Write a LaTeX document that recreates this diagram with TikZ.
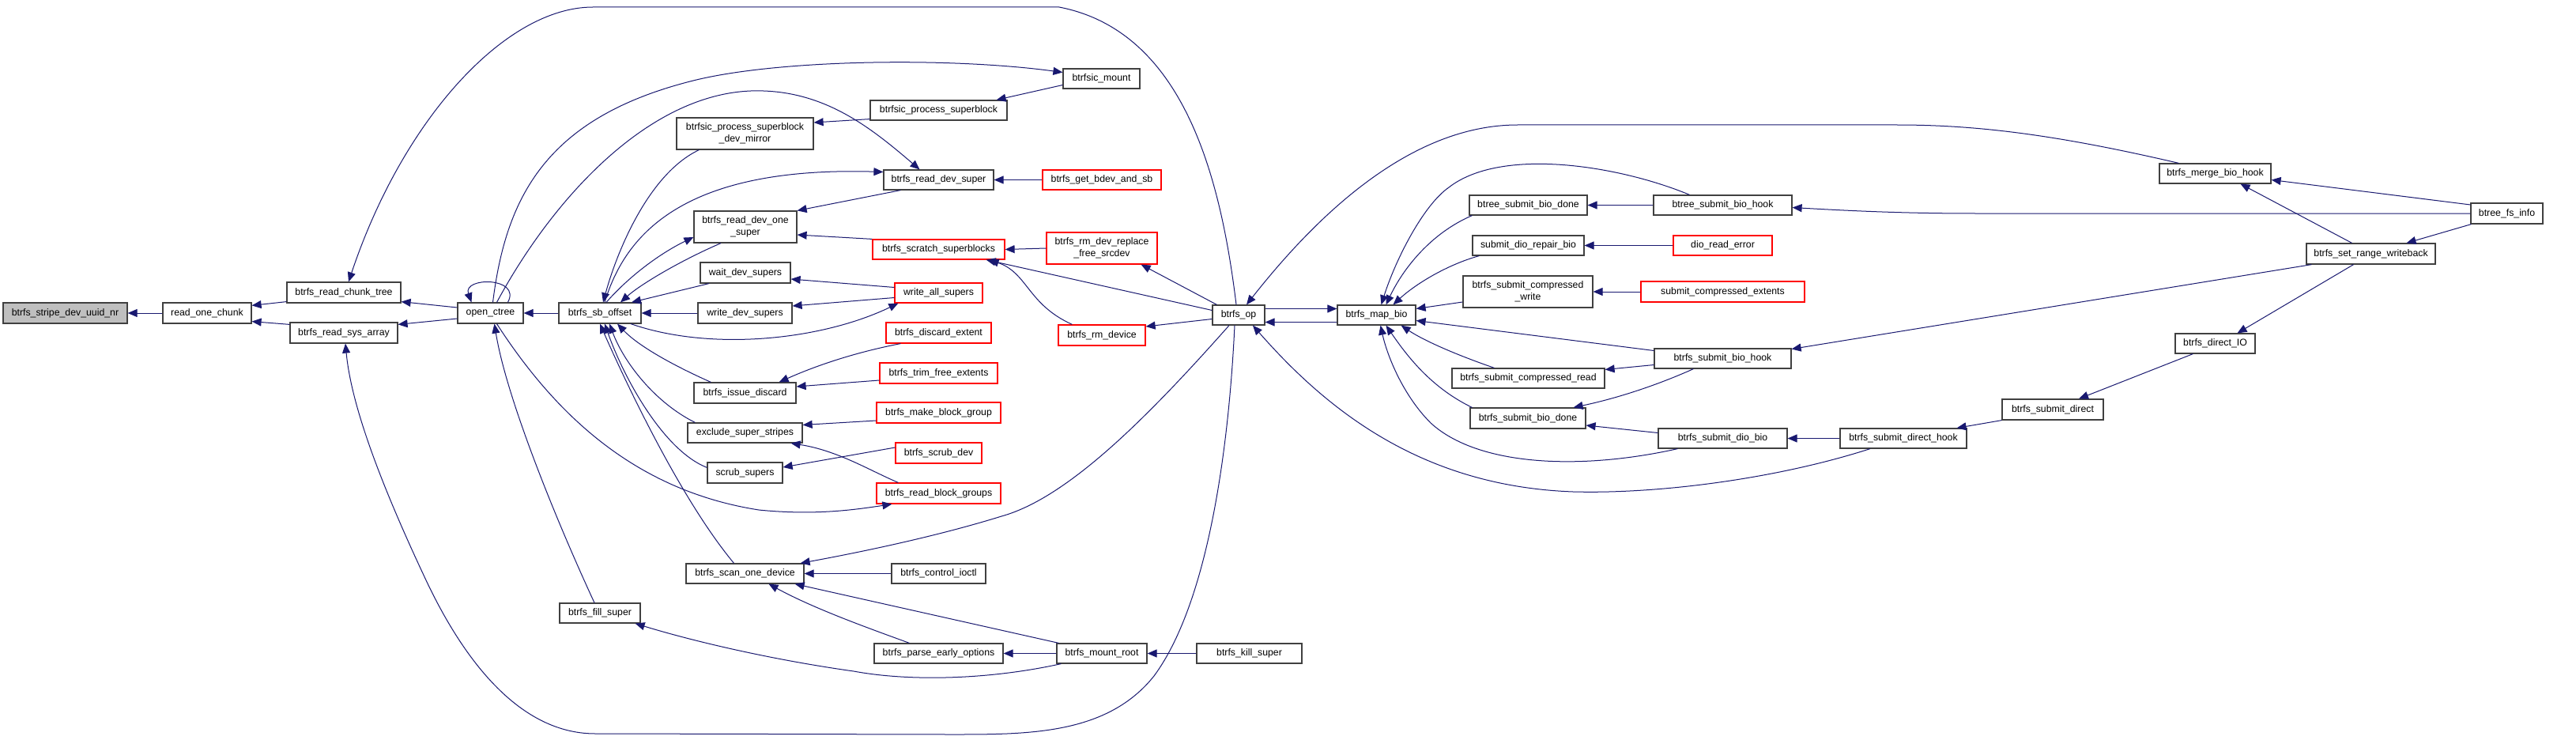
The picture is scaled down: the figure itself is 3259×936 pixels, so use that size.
\documentclass[tikz,border=0pt]{standalone}
\usepackage{fontspec}
\setmainfont{Liberation Sans}
\usetikzlibrary{arrows.meta}
\definecolor{edgecol}{HTML}{191970}
\definecolor{boxcol}{HTML}{404040}
\definecolor{focusfill}{HTML}{BFBFBF}
\tikzset{
  box/.style={draw=boxcol, line width=1.2pt, rectangle, inner sep=0pt, align=center,
    font=\fontsize{12.3}{15}\selectfont, fill=white},
  redbox/.style={draw=red},
  focus/.style={fill=focusfill},
  plain/.style={},
  edge/.style={draw=edgecol, line width=1pt, -{Triangle[length=12pt,width=10pt]}}
}
\newcommand{\mynode}[7]{\node[box,#2,minimum width=#5pt,minimum height=#6pt] (#1) at (#3,#4) {#7};}
\begin{document}
\begin{tikzpicture}[x=1pt,y=-1pt]
\useasboundingbox[fill=white] (0,0) rectangle (3259,936);
% nodes: name, style, cx, cy, w, h, text
\mynode{stripe}{focus}{82.5}{396}{157}{26}{btrfs\_stripe\_dev\_uuid\_nr}
\mynode{roc}{plain}{262}{396}{112}{26}{read\_one\_chunk}
\mynode{rct}{plain}{435}{370}{144}{26}{btrfs\_read\_chunk\_tree}
\mynode{rsa}{plain}{435}{421}{136}{26}{btrfs\_read\_sys\_array}
\mynode{oc}{plain}{620.5}{396}{83}{26}{open\_ctree}
\mynode{sbo}{plain}{759}{396}{104}{26}{btrfs\_sb\_offset}
\mynode{dm}{plain}{942.5}{169}{173}{40}{btrfsic\_process\_superblock\\\_dev\_mirror}
\mynode{rdos}{plain}{943}{287}{130}{40}{btrfs\_read\_dev\_one\\\_super}
\mynode{wds}{plain}{943}{345}{114}{26}{wait\_dev\_supers}
\mynode{wrds}{plain}{942.5}{396}{119}{26}{write\_dev\_supers}
\mynode{isd}{plain}{942.5}{497}{129}{26}{btrfs\_issue\_discard}
\mynode{ess}{plain}{942.5}{547.5}{145}{25}{exclude\_super\_stripes}
\mynode{ssu}{plain}{942.5}{598}{95}{26}{scrub\_supers}
\mynode{sod}{plain}{942.5}{725.5}{149}{25}{btrfs\_scan\_one\_device}
\mynode{fs}{plain}{759}{775.5}{102}{25}{btrfs\_fill\_super}
\mynode{mnt}{plain}{1393.5}{99.5}{97}{25}{btrfsic\_mount}
\mynode{psb}{plain}{1187.5}{139.5}{173}{25}{btrfsic\_process\_superblock}
\mynode{rds}{plain}{1187.5}{227.5}{139}{25}{btrfs\_read\_dev\_super}
\mynode{gbs}{redbox}{1394}{227.5}{150}{25}{btrfs\_get\_bdev\_and\_sb}
\mynode{scr}{redbox}{1187.5}{315.5}{167}{25}{btrfs\_scratch\_superblocks}
\mynode{rdr}{redbox}{1394}{314}{140}{40}{btrfs\_rm\_dev\_replace\\\_free\_srcdev}
\mynode{was}{redbox}{1187.5}{370.5}{111}{25}{write\_all\_supers}
\mynode{dex}{redbox}{1187.5}{421}{133}{26}{btrfs\_discard\_extent}
\mynode{rmd}{redbox}{1394}{424}{110}{26}{btrfs\_rm\_device}
\mynode{op}{plain}{1567}{398.5}{66}{25}{btrfs\_op}
\mynode{tfe}{redbox}{1187.5}{472}{149}{26}{btrfs\_trim\_free\_extents}
\mynode{mbg}{redbox}{1187.5}{522}{157}{26}{btrfs\_make\_block\_group}
\mynode{sdev}{redbox}{1187.5}{573}{109}{26}{btrfs\_scrub\_dev}
\mynode{rbg}{redbox}{1187.5}{624}{157}{26}{btrfs\_read\_block\_groups}
\mynode{cio}{plain}{1187.5}{725.5}{119}{25}{btrfs\_control\_ioctl}
\mynode{peo}{plain}{1187.5}{826.5}{163}{25}{btrfs\_parse\_early\_options}
\mynode{mr}{plain}{1394}{826.5}{114}{25}{btrfs\_mount\_root}
\mynode{ks}{plain}{1580.5}{826.5}{133}{25}{btrfs\_kill\_super}
\mynode{mb}{plain}{1741.5}{398.5}{99}{25}{btrfs\_map\_bio}
\mynode{bsbd}{plain}{1933.5}{259.5}{149}{25}{btree\_submit\_bio\_done}
\mynode{sdrb}{plain}{1933.5}{310.5}{141}{25}{submit\_dio\_repair\_bio}
\mynode{scw}{plain}{1933}{369}{164}{40}{btrfs\_submit\_compressed\\\_write}
\mynode{bsbh}{plain}{2179.5}{259.5}{175}{25}{btree\_submit\_bio\_hook}
\mynode{dre}{redbox}{2179.5}{310.5}{125}{25}{dio\_read\_error}
\mynode{sce}{redbox}{2179.5}{369}{207}{26}{submit\_compressed\_extents}
\mynode{sbh}{plain}{2179.5}{453.5}{173}{25}{btrfs\_submit\_bio\_hook}
\mynode{scr2}{plain}{1933.5}{478.5}{193}{25}{btrfs\_submit\_compressed\_read}
\mynode{sbd}{plain}{1933}{529}{146}{26}{btrfs\_submit\_bio\_done}
\mynode{sdb}{plain}{2179.5}{554.5}{163}{25}{btrfs\_submit\_dio\_bio}
\mynode{sdh}{plain}{2408}{554.5}{160}{25}{btrfs\_submit\_direct\_hook}
\mynode{sdir}{plain}{2597}{518}{128}{26}{btrfs\_submit\_direct}
\mynode{mbh}{plain}{2802.5}{219.5}{141}{25}{btrfs\_merge\_bio\_hook}
\mynode{bfi}{plain}{3171.5}{270}{91}{26}{btree\_fs\_info}
\mynode{srw}{plain}{2999.5}{321}{163}{26}{btrfs\_set\_range\_writeback}
\mynode{dio}{plain}{2802.5}{434.5}{101}{25}{btrfs\_direct\_IO}
% edges
\draw[edge] (roc.west) -- (stripe.east);
\draw[edge] ([yshift=2pt]rct.south west) -- ([yshift=-4pt]roc.north east);
\draw[edge] ([yshift=-3pt]rsa.north west) -- ([yshift=3pt]roc.south east);
\draw[edge] ([yshift=7pt]oc.west) -- ([yshift=2pt]rct.south east);
\draw[edge] ([yshift=-7pt]oc.west) -- ([yshift=-3pt]rsa.north east);
\draw[edge] ([xshift=-3pt]op.north) .. controls (1545,230) and (1500,40) .. (1340,9) -- (750,9) .. controls (640,9) and (510,150) .. ([xshift=6pt]rct.north);
\draw[edge] ([xshift=-5pt]op.south) .. controls (1555,560) and (1530,760) .. (1460,855) .. controls (1400,930) and (1300,929) .. (1200,929) -- (753,928) .. controls (650,928) and (580,820) .. (540,736) .. controls (490,630) and (445,520) .. ([xshift=2pt]rsa.south);
\draw[edge] ([xshift=22pt]oc.north) .. controls (660,350) and (585,350) .. ([xshift=-24pt]oc.north);
\draw[edge] (sbo.west) -- (oc.east);
\draw[edge] ([xshift=3pt]oc.north) .. controls (640,250) and (690,150) .. (873,103) .. controls (980,75) and (1200,72) .. ([yshift=8pt]mnt.west);
\draw[edge] ([xshift=8pt]oc.north) .. controls (700,250) and (820,120) .. (950,115) .. controls (1040,112) and (1100,160) .. ([xshift=-24pt]rds.north);
\draw[edge] ([xshift=-7pt]fs.north) .. controls (700,650) and (640,500) .. ([xshift=5pt]oc.south);
\draw[edge] ([xshift=8pt]oc.south) .. controls (700,520) and (800,620) .. (960,645) .. controls (1030,652) and (1080,645) .. ([xshift=20pt]rbg.south west);
\draw[edge] ([xshift=29pt]dm.south west) .. controls (820,220) and (780,320) .. ([xshift=4pt]sbo.north);
\draw[edge] ([xshift=6pt]sbo.north) .. controls (790,300) and (860,210) .. ([yshift=10pt]rds.west);
\draw[edge] ([xshift=8pt]sbo.north) .. controls (800,345) and (840,318) .. ([yshift=-13pt]rdos.west);
\draw[edge] ([xshift=-31pt]rdos.south) .. controls (860,330) and (810,360) .. ([xshift=26pt]sbo.north);
\draw[edge] ([xshift=-46pt]wds.south) -- ([xshift=40pt]sbo.north);
\draw[edge] (wrds.west) -- (sbo.east);
\draw[edge] ([xshift=39pt]sbo.south) .. controls (900,445) and (1040,430) .. ([xshift=5pt]was.south west);
\draw[edge] ([xshift=22pt]isd.north west) .. controls (860,466) and (810,440) .. ([xshift=22pt]sbo.south);
\draw[edge] ([xshift=10pt]ess.north west) .. controls (830,510) and (790,460) .. ([xshift=12pt]sbo.south);
\draw[edge] ([yshift=-7pt]ssu.north west) .. controls (840,570) and (790,480) .. ([xshift=6pt]sbo.south);
\draw[edge] ([xshift=-14pt]sod.north) .. controls (860,630) and (790,480) .. (sbo.south);
\draw[edge] ([yshift=2pt]psb.south west) -- ([yshift=14pt]dm.east);
\draw[edge] ([yshift=-8pt]mnt.west) -- ([xshift=-14pt]psb.north east);
\draw[edge] ([xshift=22pt]rds.south west) -- (rdos.north east);
\draw[edge] (scr.north west) -- ([yshift=-10pt]rdos.east);
\draw[edge] ([yshift=7pt]was.west) -- ([yshift=-8pt]wds.east);
\draw[edge] ([yshift=-6pt]was.west) -- ([yshift=9pt]wrds.east);
\draw[edge] ([xshift=19pt]dex.south west) .. controls (1070,448) and (1020,468) .. ([xshift=-22pt]isd.north east);
\draw[edge] ([yshift=-9pt]tfe.west) -- ([yshift=8pt]isd.east);
\draw[edge] ([yshift=-10pt]mbg.west) -- ([yshift=10pt]ess.east);
\draw[edge] ([xshift=28pt]rbg.north west) .. controls (1100,595) and (1060,570) .. ([xshift=-15pt]ess.south east);
\draw[edge] ([yshift=7pt]sdev.west) -- ([yshift=7pt]ssu.east);
\draw[edge] ([xshift=-12pt]op.south) .. controls (1450,530) and (1350,630) .. (1267,653) .. controls (1180,680) and (1080,700) .. ([xshift=-5pt]sod.north east);
\draw[edge] (cio.west) -- (sod.east);
\draw[edge] ([xshift=3pt]mr.north west) -- ([xshift=-12pt]sod.south east);
\draw[edge] ([xshift=-37pt]peo.north) .. controls (1100,795) and (1030,770) .. ([xshift=30pt]sod.south);
\draw[edge] ([xshift=6pt]mr.south west) .. controls (1250,860) and (1150,862) .. (1080,849) .. controls (980,835) and (880,812) .. ([xshift=-7pt]fs.south east);
\draw[edge] (mr.west) -- (peo.east);
\draw[edge] (ks.west) -- (mr.east);
\draw[edge] (gbs.west) -- (rds.east);
\draw[edge] (rdr.west) -- (scr.east);
\draw[edge] ([yshift=6pt]op.west) -- ([xshift=-24pt]scr.south east);
\draw[edge] ([xshift=18pt]rmd.north west) .. controls (1300,385) and (1300,345) .. ([xshift=-20pt]scr.south east);
\draw[edge] ([xshift=6pt]op.north west) -- ([xshift=-21pt]rdr.south east);
\draw[edge] ([yshift=-5pt]op.west) -- ([yshift=11pt]rmd.east);
\draw[edge] ([xshift=25pt]mbh.north west) .. controls (2600,170) and (2500,158) .. (2400,158) -- (1920,158) .. controls (1780,158) and (1660,280) .. ([xshift=10pt]op.north);
\draw[edge] ([xshift=-42pt]sdh.south) .. controls (2250,605) and (2100,625) .. (1990,622) .. controls (1800,615) and (1680,520) .. ([xshift=18pt]op.south);
\draw[edge] ([yshift=8pt]op.east) -- ([yshift=8pt]mb.west);
\draw[edge] ([yshift=-9pt]mb.west) -- ([yshift=-9pt]op.east);
\draw[edge] ([xshift=-42pt]bsbh.north) .. controls (2050,210) and (1900,185) .. (1833,237) .. controls (1800,260) and (1765,330) .. ([xshift=6pt]mb.north);
\draw[edge] ([xshift=4pt]bsbd.south west) .. controls (1810,295) and (1775,340) .. ([xshift=12pt]mb.north);
\draw[edge] ([xshift=9pt]sdrb.south west) .. controls (1830,335) and (1790,360) .. ([xshift=21pt]mb.north);
\draw[edge] ([yshift=-13pt]scw.west) -- ([yshift=8pt]mb.east);
\draw[edge] ([yshift=10pt]sbh.west) -- ([yshift=-7pt]mb.east);
\draw[edge] ([xshift=-43pt]scr2.north) .. controls (1840,448) and (1800,430) .. ([xshift=-19pt]mb.south east);
\draw[edge] ([xshift=3pt]sbd.north west) .. controls (1810,490) and (1780,450) .. ([xshift=12pt]mb.south);
\draw[edge] ([xshift=25pt]sdb.south west) .. controls (2000,595) and (1870,590) .. (1810,535) .. controls (1775,500) and (1755,450) .. ([xshift=5pt]mb.south);
\draw[edge] (bsbh.west) -- (bsbd.east);
\draw[edge] (bfi.west) -- (2500,270) .. controls (2400,270) and (2330,266) .. ([yshift=-3pt]bsbh.east);
\draw[edge] (dre.west) -- (sdrb.east);
\draw[edge] (sce.west) -- (scw.east);
\draw[edge] ([yshift=-8pt]sbh.west) -- ([yshift=11pt]scr2.east);
\draw[edge] ([xshift=50pt]sbh.south west) .. controls (2090,490) and (2040,505) .. ([xshift=-16pt]sbd.north east);
\draw[edge] ([yshift=7pt]sdb.west) -- ([yshift=-9pt]sbd.east);
\draw[edge] ([xshift=7pt]srw.south west) -- ([yshift=12pt]sbh.east);
\draw[edge] (sdh.west) -- (sdb.east);
\draw[edge] (sdir.south west) -- ([xshift=-13pt]sdh.north east);
\draw[edge] ([xshift=23pt]dio.south west) -- ([xshift=33pt]sdir.north);
\draw[edge] ([xshift=-22pt]srw.south) -- ([xshift=28pt]dio.north);
\draw[edge] ([yshift=11pt]bfi.west) -- ([yshift=-8pt]mbh.east);
\draw[edge] ([xshift=-24pt]srw.north) -- ([xshift=32pt]mbh.south);
\draw[edge] ([xshift=1pt]bfi.south west) -- ([xshift=45pt]srw.north);
\end{tikzpicture}
\end{document}
